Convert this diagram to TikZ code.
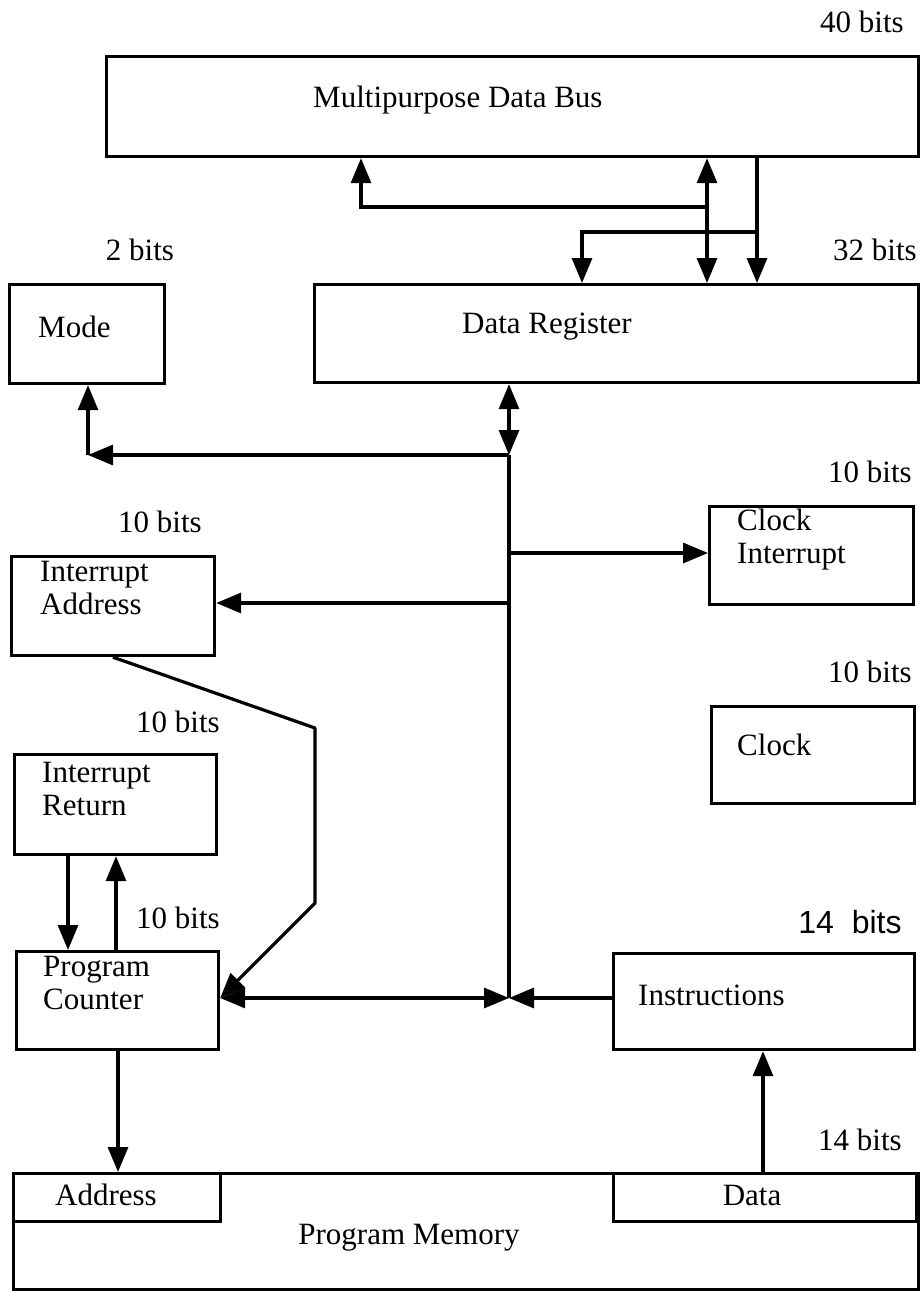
\documentclass[tikz,border=0pt]{standalone}
\usepackage{fontspec}
\setmainfont{Liberation Serif}
\newfontfamily\labsans{Liberation Sans}
\usetikzlibrary{arrows.meta,calc}
\begin{document}
\begin{tikzpicture}[x=1pt,y=-1pt,
  every node/.style={font=\fontsize{31}{33}\selectfont, inner sep=0pt},
  blk/.style={draw, line width=3.2pt, anchor=north west, inner sep=0pt},
  conn/.style={line width=3.2pt, -{Triangle[length=25pt,width=20pt]}},
  bconn/.style={line width=3.2pt, {Triangle[length=25pt,width=20pt]}-{Triangle[length=25pt,width=20pt]}},
  plain/.style={line width=3.2pt},
  txt/.style={anchor=west, align=left},
  lbl/.style={anchor=center}]
\useasboundingbox (0,0) rectangle (922,1292);
% boxes
\node[blk, minimum width=812pt, minimum height=100pt] (bus) at (105,55) {};
\node[blk, minimum width=155pt, minimum height=99pt] (mode) at (8,283) {};
\node[blk, minimum width=604pt, minimum height=98pt] (dr) at (313,283) {};
\node[blk, minimum width=204pt, minimum height=98pt] (ci) at (708,505) {};
\node[blk, minimum width=203pt, minimum height=99pt] (ia) at (10,555) {};
\node[blk, minimum width=203pt, minimum height=97pt] (clk) at (710,705) {};
\node[blk, minimum width=202pt, minimum height=100pt] (ir) at (13,753) {};
\node[blk, minimum width=202pt, minimum height=98pt] (pc) at (15,950) {};
\node[blk, minimum width=301pt, minimum height=96pt] (ins) at (612,952) {};
\node[blk, minimum width=905pt, minimum height=116pt] (pm) at (12,1172) {};
\node[blk, minimum width=207pt, minimum height=48pt] (addr) at (12,1172) {};
\node[blk, minimum width=303pt, minimum height=48pt] (data) at (612,1172) {};
% box texts
\node[txt] (tbus) at (313,100) {Multipurpose Data Bus};
\node[txt] (tmode) at (38,327) {Mode};
\node[txt] (tdr) at (462,327) {Data Register};
\node[txt] (tci) at (737,540) {Clock\\Interrupt};
\node[txt] (tia) at (40,588) {Interrupt\\Address};
\node[txt] (tclk) at (737,745) {Clock};
\node[txt] (tir) at (42,789) {Interrupt\\Return};
\node[txt] (tpc) at (43,983) {Program\\Counter};
\node[txt] (tins) at (638,995) {Instructions};
\node[lbl] (taddr) at (106,1195) {Address};
\node[lbl] (tdata) at (752,1195) {Data};
\node[lbl] (tpm) at (409,1238) {Program Memory};
% bit labels
\node[lbl] (b40) at (862,22) {40 bits};
\node[lbl] (b2) at (140,250) {2 bits};
\node[lbl] (b32) at (875,250) {32 bits};
\node[lbl] (b10a) at (870,472) {10 bits};
\node[lbl] (b10b) at (160,522) {10 bits};
\node[lbl] (b10c) at (870,672) {10 bits};
\node[lbl] (b10d) at (178,722) {10 bits};
\node[lbl] (b10e) at (178,918) {10 bits};
\node[lbl, font=\labsans\fontsize{32}{34}\selectfont] (b14a) at (850,922) {14\ \ bits};
\node[lbl] (b14b) at (860,1140) {14 bits};
% junction coordinates
\coordinate (j1) at (707,207);
\coordinate (j2) at (757,232);
\coordinate (jm) at (509,455);
\coordinate (jmc) at (88,455);
\coordinate (jci) at (509,553);
\coordinate (jia) at (509,603);
\coordinate (jpc) at (509,998);
\coordinate (d1) at (315,728);
\coordinate (d2) at (315,903);
% connectors between bus and data register
\draw[conn] (j1) -| (361,0 |- bus.south);
\draw[bconn] (707,0 |- bus.south) -- (707,0 |- dr.north);
\draw[conn] (757,0 |- bus.south) -- (757,0 |- dr.north);
\draw[conn] (j2) -| (582,0 |- dr.north);
% data register to internal bus
\draw[bconn] (509,0 |- dr.south) -- (jm);
\draw[conn] (jm) -- (jmc);
\draw[conn] (jmc) -- (88,0 |- mode.south);
\draw[plain] (jm) -- (jpc);
\draw[conn] (jci) -- (ci.west |- jci);
\draw[conn] (jia) -- (ia.east |- jia);
% interrupt address to program counter
\draw[conn, line join=round] (113,0 |- ia.south) -- (d1) -- (d2) -- (pc.east |- jpc);
\draw[bconn] (pc.east |- jpc) -- (jpc);
\draw[conn] (ins.west |- jpc) -- (jpc);
% interrupt return <-> program counter
\draw[conn] (68,0 |- ir.south) -- (68,0 |- pc.north);
\draw[conn] (116,0 |- pc.north) -- (116,0 |- ir.south);
% program counter to memory, memory data to instructions
\draw[conn] (118,0 |- pc.south) -- (118,0 |- addr.north);
\draw[conn] (763,0 |- data.north) -- (763,0 |- ins.south);
\end{tikzpicture}
\end{document}
